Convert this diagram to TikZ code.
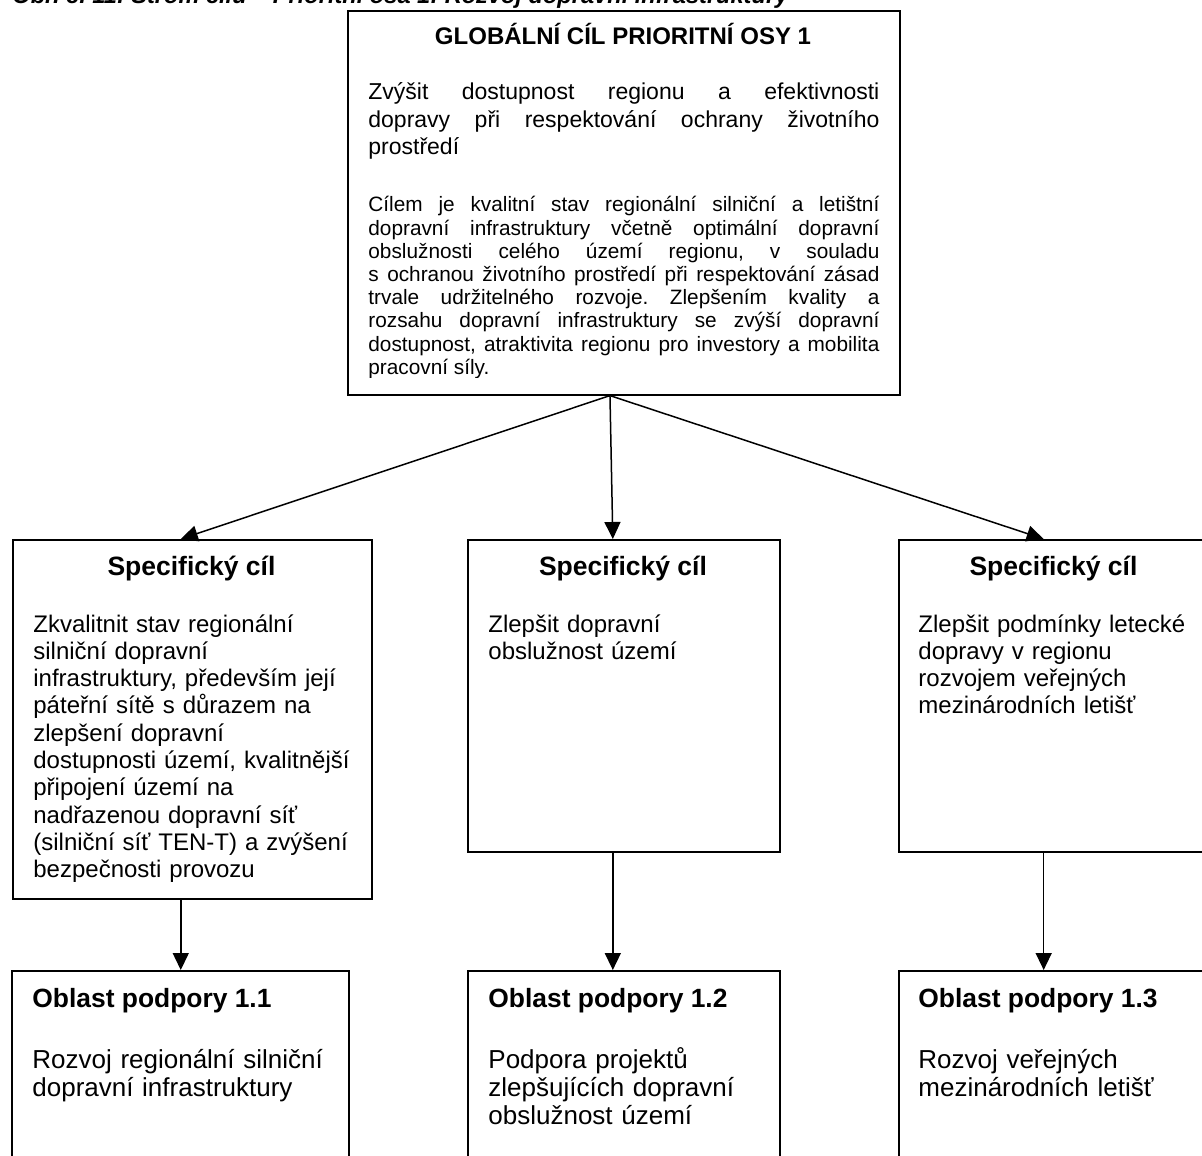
\documentclass[tikz,border=0pt]{standalone}
\usepackage{fontspec}
\setmainfont{Liberation Sans}
\usetikzlibrary{arrows.meta,calc}

\begin{document}
\frenchspacing
\begin{tikzpicture}[x=0.5pt, y=-0.5pt,
  box/.style={draw, line width=0.8pt, anchor=north west, inner sep=0pt},
  arr/.style={line width=0.75pt, -{Triangle[length=8.5pt,width=8pt]}},
  spechead/.style={anchor=base, inner sep=0pt, font=\fontsize{13.25}{15}\selectfont\bfseries},
  areahead/.style={anchor=base west, inner sep=0pt, font=\fontsize{13.2}{15}\selectfont\bfseries},
  specbody/.style={anchor=base west, inner sep=0pt, align=left, text width=165pt, font=\fontsize{12}{13.65}\selectfont},
  areabody/.style={anchor=base west, inner sep=0pt, align=left, text width=160pt, font=\fontsize{13}{14}\selectfont},
  topbody/.style={anchor=base west, inner sep=0pt, text width=255.5pt, align=justify}]
% Page size of the reference
\useasboundingbox (0,0) rectangle (1202,1155);

% Caption, cut off by the top edge
\node[anchor=base west, inner sep=0pt, font=\fontsize{11.8}{14}\selectfont\bfseries\itshape] (caption) at (12,4)
  {Obr. č. 11: Strom cílů – Prioritní osa 1: Rozvoj dopravní infrastruktury};

% Global goal
\node[box, minimum width=276pt, minimum height=192pt] (top) at (347,10) {};
\node[anchor=base, inner sep=0pt, font=\fontsize{12}{14}\selectfont\bfseries] (toptitle) at (623,45) {GLOBÁLNÍ CÍL PRIORITNÍ OSY 1};
\node[topbody, font=\fontsize{11.5}{13.75}\selectfont] (topgoal) at (368,100)
  {Zvýšit dostupnost regionu a efektivnosti\linebreak dopravy při respektování ochrany životního\linebreak prostředí};
\begin{scope}
\clip (347,10) rectangle (899,377);
\node[topbody, font=\fontsize{10.4}{11.6}\selectfont] (toptext) at (368,212)
  {Cílem je kvalitní stav regionální silniční a letištní\linebreak dopravní infrastruktury včetně optimální dopravní\linebreak obslužnosti celého území regionu, v souladu\linebreak s~ochranou životního prostředí při respektování zásad\linebreak trvale udržitelného rozvoje. Zlepšením kvality a\linebreak rozsahu dopravní infrastruktury se zvýší dopravní\linebreak dostupnost, atraktivita regionu pro investory a mobilita\linebreak pracovní síly.};
\end{scope}

% Specific goals
\node[box, minimum width=179.5pt, minimum height=179.5pt] (spec1) at (12,539) {};
\node[spechead] (spec1head) at (191.5,575) {Specifický cíl};
\node[specbody] (spec1text) at (33,632)
  {Zkvalitnit stav regionální\\ silniční dopravní\\ infrastruktury, především její\\ páteřní sítě s důrazem na\\ zlepšení dopravní\\ dostupnosti území, kvalitnější\\ připojení území na\\ nadřazenou dopravní síť\\ (silniční síť TEN-T) a zvýšení\\ bezpečnosti provozu};

\node[box, minimum width=156pt, minimum height=156pt] (spec2) at (467,539) {};
\node[spechead] (spec2head) at (623,575) {Specifický cíl};
\node[specbody] (spec2text) at (488,632) {Zlepšit dopravní\\ obslužnost území};

\node[box, minimum width=155.5pt, minimum height=156pt] (spec3) at (898,539) {};
\node[spechead] (spec3head) at (1053.5,575) {Specifický cíl};
\node[specbody] (spec3text) at (918,632)
  {Zlepšit podmínky letecké\\ dopravy v regionu\\ rozvojem veřejných\\ mezinárodních letišť};

% Support areas
\node[box, minimum width=168.5pt, minimum height=115pt] (area1) at (11,970) {};
\node[areahead] (area1head) at (32,1007) {Oblast podpory 1.1};
\node[areabody] (area1text) at (32,1068) {Rozvoj regionální silniční\\ dopravní infrastruktury};

\node[box, minimum width=156pt, minimum height=115pt] (area2) at (467,970) {};
\node[areahead] (area2head) at (488,1007) {Oblast podpory 1.2};
\node[areabody] (area2text) at (488,1068) {Podpora projektů\\ zlepšujících dopravní\\ obslužnost území};

\node[box, minimum width=155.5pt, minimum height=115pt] (area3) at (898,970) {};
\node[areahead] (area3head) at (918,1007) {Oblast podpory 1.3};
\node[areabody] (area3text) at (918,1068) {Rozvoj veřejných\\ mezinárodních letišť};

% Arrows
\coordinate (fan) at ($(top.south west)!0.475!(top.south east)$);
\draw[arr] (fan) -- ($(spec1.north west)!0.468!(spec1.north east)$);
\draw[arr] (fan) -- ($(spec2.north west)!0.465!(spec2.north east)$);
\draw[arr] (fan) -- ($(spec3.north west)!0.466!(spec3.north east)$);
\coordinate (out1) at ($(spec1.south west)!0.468!(spec1.south east)$);
\coordinate (out2) at ($(spec2.south west)!0.465!(spec2.south east)$);
\coordinate (out3) at ($(spec3.south west)!0.466!(spec3.south east)$);
\draw[arr] (out1) -- (out1 |- area1.north);
\draw[arr] (out2) -- (out2 |- area2.north);
\draw[arr] (out3) -- (out3 |- area3.north);
\end{tikzpicture}
\end{document}
